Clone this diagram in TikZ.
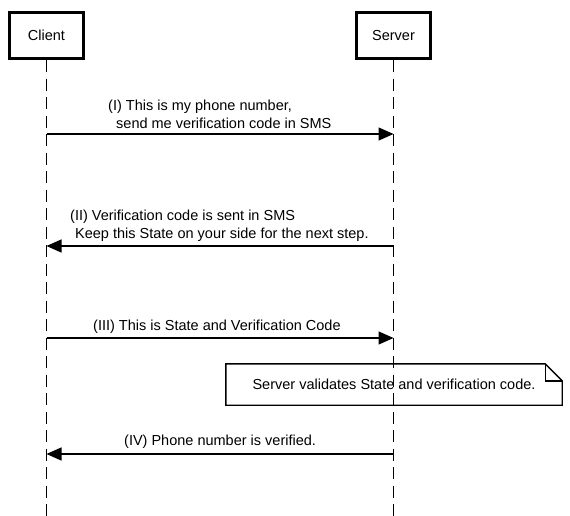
\documentclass[tikz,border=0pt]{standalone}
\usepackage{fontspec}
\setmainfont{Liberation Sans}
\usetikzlibrary{arrows.meta}
\begin{document}
\begin{tikzpicture}[x=1pt,y=-1pt,
  actor/.style={draw, line width=2.8pt, minimum width=74.5pt, minimum height=46.5pt, inner sep=0pt, font=\fontsize{14.5}{18}\selectfont},
  lifeline/.style={line width=1.4pt, dash pattern=on 12pt off 6.5pt},
  msg/.style={line width=1.4pt, -{Triangle[length=15pt,width=13pt]}},
  lbl/.style={anchor=west, align=left, inner sep=0pt, font=\fontsize{14.5}{18}\selectfont},
  notebox/.style={line width=1.4pt}
]
\useasboundingbox (0,0) rectangle (570,516);

% actors
\node[actor] (client) at (46.5,35.5) {Client};
\node[actor] (server) at (393.5,35.5) {Server};

% lifeline ends
\coordinate (cend) at (46.5,516);
\coordinate (send) at (393.5,516);
\draw[lifeline] (client.south) -- (cend);
\draw[lifeline] (server.south) -- (send);

% message points
\coordinate (c1) at (46.5,134);  \coordinate (s1) at (393.5,134);
\coordinate (c2) at (46.5,246);  \coordinate (s2) at (393.5,246);
\coordinate (c3) at (46.5,338);  \coordinate (s3) at (393.5,338);
\coordinate (c4) at (46.5,454);  \coordinate (s4) at (393.5,454);

\draw[msg] (c1) -- (s1);
\draw[msg] (s2) -- (c2);
\draw[msg] (c3) -- (s3);
\draw[msg] (s4) -- (c4);

% labels
\node[lbl] (l1) at (108,114) {(I) This is my phone number,\\\hspace*{8pt}send me verification code in SMS};
\node[lbl] (l2) at (70,226) {(II) Verification code is sent in SMS\\\hspace*{5pt}Keep this State on your side for the next step.};
\node[lbl] (l3) at (93,327) {(III) This is State and Verification Code};
\node[lbl] (l4) at (124,442) {(IV) Phone number is verified.};

% note
\node[minimum width=336pt, minimum height=41pt, inner sep=0pt, font=\fontsize{14.5}{18}\selectfont] (note) at (394,384.5) {Server validates State and verification code.};
\draw[notebox] (note.north west) -- ([xshift=-17pt]note.north east) -- ([yshift=-17pt]note.north east) -- (note.south east) -- (note.south west) -- cycle;
\draw[notebox] ([xshift=-17pt]note.north east) -- ([xshift=-17pt,yshift=-17pt]note.north east) -- ([yshift=-17pt]note.north east);
\end{tikzpicture}
\end{document}
